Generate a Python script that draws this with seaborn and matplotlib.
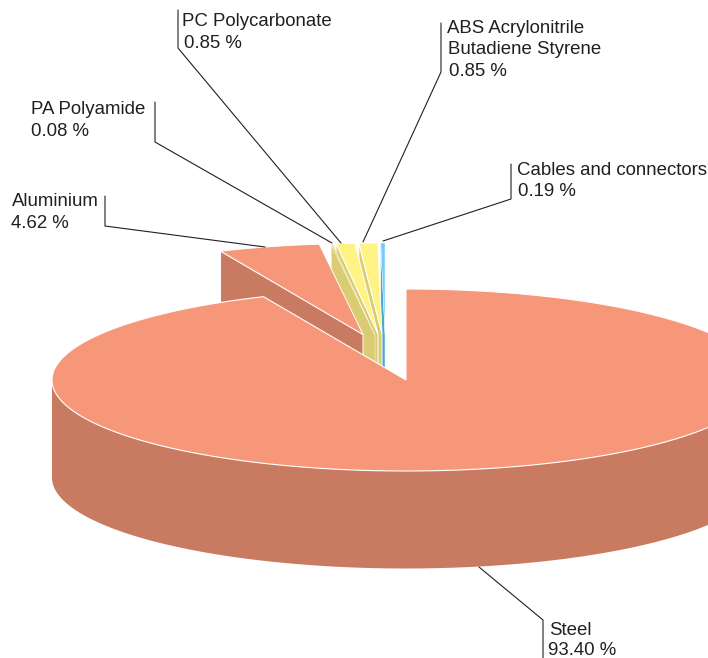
import numpy as np
import matplotlib
matplotlib.use('Agg')
import matplotlib.pyplot as plt
import seaborn as sns

# Values, clockwise from 12 o'clock
materials = ['Steel', 'Aluminium', 'PA Polyamide', 'PC Polycarbonate',
             'ABS Acrylonitrile\nButadiene Styrene', 'Cables and connectors']
shares = [93.40, 4.62, 0.08, 0.85, 0.85, 0.19]

top_colors = ['#F79779', '#F79779', '#E3D677', '#FFF385', '#FFF385', '#6DCFF6']
wall_colors = ['#C97B61', '#C97B61', '#D9CC72', '#D9CC72', '#D9CC72', '#4FA8CC']

# how far each slice is pulled out of the pie, in pixels
explode = [(0, 0), (-43, -45.5), (-31, -45), (-28, -46), (-24, -46), (-21, -46)]

# pie geometry in pixels
cx, cy = 406, 380
rx, ry = 354, 91
depth = 97.5

sns.set_theme(style='white')
plt.rcParams['font.family'] = ['Liberation Sans', 'DejaVu Sans']

fig = plt.figure(figsize=(7.08, 6.58), dpi=100)
ax = fig.add_axes([0, 0, 1, 1])
ax.set_xlim(0, 708)
ax.set_ylim(658, 0)
ax.axis('off')


def rim(angle, off=(0, 0)):
    a = np.radians(angle)
    return cx + rx * np.sin(a) + off[0], cy - ry * np.cos(a) + off[1]


edges = np.cumsum([0] + shares) / sum(shares) * 360

# slices from right to left, steel goes last and covers the lower walls
for i in range(len(shares) - 1, 0, -1):
    off = explode[i]
    x0, y0 = rim(edges[i], off)
    px, py = cx + off[0], cy + off[1]
    # the thin slices lose too much colour under a full white edge
    edge_w = 0.7 if shares[i] > 0.5 else 0.3
    ax.fill([x0, px, px, x0], [y0, py, py + depth, y0 + depth],
            color=wall_colors[i], ec='white', lw=edge_w, zorder=i * -2 + 20)
    arc = np.linspace(edges[i], edges[i + 1], 20)
    xs, ys = rim(arc, off)
    ax.fill(np.r_[xs, px], np.r_[ys, py], color=top_colors[i], ec='white',
            lw=edge_w, zorder=i * -2 + 21)

# steel outer wall and top
arc = np.linspace(90, 270, 200)
xs, ys = rim(arc)
ax.fill(np.r_[xs, xs[::-1]], np.r_[ys, ys[::-1] + depth], color=wall_colors[0], lw=0, zorder=22)
arc = np.linspace(edges[0], edges[1], 400)
xs, ys = rim(arc)
ax.fill(np.r_[xs, cx], np.r_[ys, cy], facecolor=top_colors[0], edgecolor='white', lw=0.8, zorder=23)

# leader lines
leaders = [
    ([543, 543, 479], [658, 620, 567]),
    ([105, 105, 265], [196, 226, 247]),
    ([155, 155, 332], [102, 142, 243]),
    ([178, 178, 341], [10, 48, 243]),
    ([441, 441, 363], [23, 72, 242]),
    ([511, 511, 383], [164, 199, 241]),
]
for lx, ly in leaders:
    sns.lineplot(x=lx, y=ly, sort=False, estimator=None, color='#231F20', lw=0.8,
                 ax=ax, zorder=30, legend=False)

# label text: left edge and baseline of each line (name lines, then the value)
label_pos = [
    [(549, 635), (548, 655)],
    [(12, 206), (11, 228)],
    [(31, 114), (31, 136)],
    [(182, 26), (184, 48)],
    [(447, 33), (448, 54), (449, 76)],
    [(517, 175), (518, 196)],
]
for name, val, pos in zip(materials, shares, label_pos):
    lines = name.split('\n') + [f'{val:.2f} %']
    for txt, (tx, ty) in zip(lines, pos):
        ax.text(tx, ty, txt, fontsize=13.4, color='#231F20', ha='left', va='baseline', zorder=31)

fig.savefig('out.png', dpi=100)
